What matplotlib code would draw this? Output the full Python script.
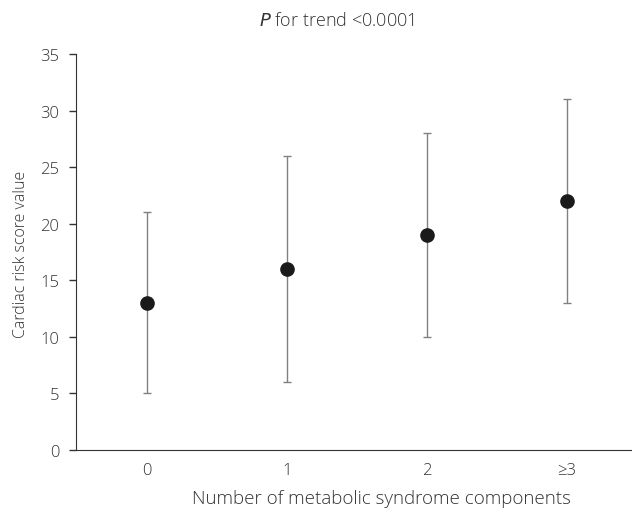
import numpy as np
import matplotlib.pyplot as plt

plt.rcParams['font.family'] = ['Open Sans', 'DejaVu Sans']

categories = ['0', '1', '2', '\u22653']
means = [13, 16, 19, 22]
lower = [5, 6, 10, 13]
upper = [21, 26, 28, 31]

x = np.arange(len(categories))
yerr = [np.array(means) - np.array(lower), np.array(upper) - np.array(means)]

W, H = 632, 510
fig = plt.figure(figsize=(W / 100, H / 100), dpi=100)
# axes box in pixels: left 76, right 632, top 55, bottom 451
ax = fig.add_axes([76 / W, (H - 451) / H, (632 - 76) / W, (451 - 55) / H])

ax.errorbar(x, means, yerr=yerr, fmt='none', ecolor='#808080', elinewidth=1,
            capsize=3, capthick=1)
ax.plot(x, means, 'o', color='#1a1a1a', markersize=9.5)

ax.set_xlim(-0.507, 3.464)
ax.set_ylim(0, 35)
ax.set_yticks(range(0, 36, 5))
ax.set_xticks(x)
ax.set_xticklabels(categories)
ax.tick_params(axis='x', length=0, pad=9, labelsize=12, colors='#333333')
ax.tick_params(axis='y', length=5, width=1, pad=7, labelsize=12, colors='#333333')
for lab in ax.get_xticklabels() + ax.get_yticklabels():
    lab.set_fontweight('light')

ax.spines['top'].set_visible(False)
ax.spines['right'].set_visible(False)
ax.spines['left'].set_color('#333333')
ax.spines['bottom'].set_color('#333333')

fig.text(21 / W, 1 - 254 / H, 'Cardiac risk score value', rotation=90,
         ha='center', va='center', fontsize=11.5, color='#333333', fontweight='light')
fig.text(381 / W, 1 - 499 / H, 'Number of metabolic syndrome components',
         ha='center', va='center', fontsize=13.5, color='#333333', fontweight='light')
fig.text(337 / W, 1 - 21 / H, r'$\it{P}$ for trend <0.0001', ha='center', va='center',
         fontsize=13, color='#333333', fontweight='light')

fig.savefig('out.png', dpi=100)
